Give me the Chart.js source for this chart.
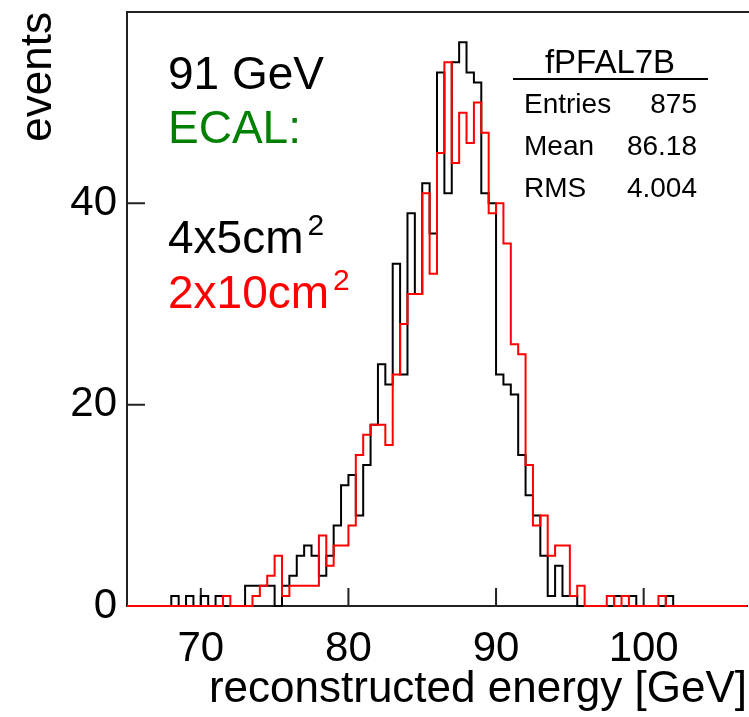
<!DOCTYPE html>
<html>
<head>
<meta charset="utf-8">
<script src="https://cdn.jsdelivr.net/npm/chart.js@4.4.1/dist/chart.umd.min.js"></script>
<style>
  body { margin: 0; background: #fff; }
  canvas { display: block; }
</style>
</head>
<body>
<canvas id="grafico" width="749" height="717"></canvas>
<script>
// histograma: bins de 0.5 GeV desde 65 hasta 107
const binInicio = 65;
const binAncho = 0.5;

// ECAL 4x5cm2 (negro)
const cuentas4x5 = [
  0, 0, 0, 0, 0, 0, 1, 0, 1, 0,        // 65.0 - 69.5
  1, 0, 1, 0, 0, 0, 2, 2, 2, 2,        // 70.0 - 74.5
  0, 2, 3, 5, 6, 5, 3, 5, 8, 12,       // 75.0 - 79.5
  13, 9, 14, 18, 24, 22, 34, 23, 39, 31,   // 80.0 - 84.5
  42, 37, 53, 41, 54, 56, 53, 52, 41, 40,  // 85.0 - 89.5
  23, 22, 21, 15, 11, 9, 5, 1, 4, 1,   // 90.0 - 94.5
  1, 0, 0, 0, 0, 0, 1, 1, 1, 0,        // 95.0 - 99.5
  0, 0, 0, 1, 0, 0, 0, 0, 0, 0,        // 100.0 - 104.5
  0, 0, 0, 0                           // 105.0 - 106.5
];

// ECAL 2x10cm2 (rojo)
const cuentas2x10 = [
  0, 0, 0, 0, 0, 0, 0, 0, 0, 0,
  0, 0, 0, 1, 0, 0, 0, 1, 2, 3,
  5, 1, 2, 2, 2, 2, 7, 4, 6, 6,
  8, 15, 17, 18, 18, 16, 23, 28, 31, 31,
  41, 33, 45, 54, 44, 49, 46, 50, 47, 39,
  40, 36, 26, 25, 14, 8, 9, 5, 6, 6,
  1, 2, 0, 0, 0, 1, 0, 1, 0, 0,
  0, 0, 1, 0, 0, 0, 0, 0, 0, 0,
  0, 0, 0, 0
];

const ticksX = [70, 80, 90, 100];
const ticksY = [0, 20, 40];

// caja de estadisticas
const statsTitulo = 'fPFAL7B';
const statsNombres = ['Entries', 'Mean', 'RMS'];
const statsValores = ['875', '86.18', '4.004'];

const fuente = '"Liberation Sans", Arial, sans-serif';

// pasa las cuentas a puntos (borde inferior de cada bin) + borde final
function aPuntos(cuentas) {
  const pts = cuentas.map((c, i) => ({ x: binInicio + i * binAncho, y: c }));
  pts.push({ x: binInicio + cuentas.length * binAncho, y: cuentas[cuentas.length - 1] });
  return pts;
}

const marcoYTextos = {
  id: 'marcoYTextos',
  beforeDatasetsDraw(chart) {
    const { ctx, chartArea, scales } = chart;
    ctx.save();
    ctx.strokeStyle = '#222';
    ctx.lineWidth = 2;
    ctx.beginPath();
    // linea de arriba del marco
    ctx.moveTo(chartArea.left, chartArea.top);
    ctx.lineTo(chart.width, chartArea.top);
    // ticks hacia adentro
    ticksX.forEach(v => {
      const px = scales.x.getPixelForValue(v);
      ctx.moveTo(px, chartArea.bottom);
      ctx.lineTo(px, chartArea.bottom - 18);
    });
    ticksY.forEach(v => {
      const py = scales.y.getPixelForValue(v);
      ctx.moveTo(chartArea.left, py);
      ctx.lineTo(chartArea.left + 18, py);
    });
    ctx.stroke();
    ctx.restore();
  },
  afterDraw(chart) {
    const ctx = chart.ctx;
    ctx.save();
    ctx.textBaseline = 'alphabetic';
    ctx.textAlign = 'left';

    ctx.font = '46px ' + fuente;
    ctx.fillStyle = '#000';
    ctx.fillText('91 GeV', 168, 89);
    ctx.fillStyle = 'rgb(0,128,0)';
    ctx.fillText('ECAL:', 168, 143);

    // textos con superindice
    const conSuper = (txt, color, y) => {
      ctx.font = '46px ' + fuente;
      ctx.fillStyle = color;
      ctx.fillText(txt, 168, y);
      const w = ctx.measureText(txt).width;
      ctx.font = '30px ' + fuente;
      ctx.fillText('2', 168 + w + 4, y - 18);
    };
    conSuper('4x5cm', '#000', 253);
    conSuper('2x10cm', '#f00', 308);

    // caja de estadisticas
    ctx.fillStyle = '#000';
    ctx.font = '33px ' + fuente;
    ctx.textAlign = 'center';
    ctx.fillText(statsTitulo, 610, 73);
    ctx.strokeStyle = '#000';
    ctx.lineWidth = 2;
    ctx.beginPath();
    ctx.moveTo(513, 79);
    ctx.lineTo(708, 79);
    ctx.stroke();
    ctx.font = '28px ' + fuente;
    statsNombres.forEach((n, i) => {
      const y = 113 + i * 42;
      ctx.textAlign = 'left';
      ctx.fillText(n, 524, y);
      ctx.textAlign = 'right';
      ctx.fillText(statsValores[i], 697, y);
    });
    ctx.restore();
  }
};

new Chart(document.getElementById('grafico').getContext('2d'), {
  type: 'line',
  data: {
    datasets: [
      {
        label: '4x5cm2',
        data: aPuntos(cuentas4x5),
        borderColor: '#000',
        borderWidth: 2,
        stepped: true,
        pointRadius: 0,
        fill: false,
        clip: 6,
        order: 1
      },
      {
        label: '2x10cm2',
        data: aPuntos(cuentas2x10),
        borderColor: '#f00',
        borderWidth: 2,
        stepped: true,
        pointRadius: 0,
        fill: false,
        clip: 6,
        order: 0
      }
    ]
  },
  options: {
    responsive: false,
    animation: false,
    layout: { padding: { top: 12, right: 2, left: 0, bottom: 0 } },
    plugins: {
      legend: { display: false },
      tooltip: { enabled: false }
    },
    scales: {
      x: {
        type: 'linear',
        min: 65,
        max: 107,
        afterBuildTicks: s => { s.ticks = ticksX.map(v => ({ value: v })); },
        afterFit: s => {
          s.height = 111;
          s.paddingLeft = 0;
          s.paddingRight = 0;
        },
        grid: { display: false, drawTicks: false },
        border: { display: true, color: '#222', width: 2 },
        ticks: {
          color: '#000',
          padding: 18,
          maxRotation: 0,
          font: { family: fuente, size: 42 }
        },
        title: {
          display: true,
          text: 'reconstructed energy [GeV]',
          align: 'end',
          color: '#000',
          font: { family: fuente, size: 44 },
          padding: { top: 0, bottom: 1 }
        }
      },
      y: {
        min: 0,
        max: 59,
        afterBuildTicks: s => { s.ticks = ticksY.map(v => ({ value: v })); },
        afterFit: s => {
          s.width = 127;
          s.paddingTop = 0;
          s.paddingBottom = 0;
        },
        grid: { display: false, drawTicks: false },
        border: { display: true, color: '#222', width: 2 },
        ticks: {
          color: '#000',
          padding: 10,
          font: { family: fuente, size: 42 }
        },
        title: {
          display: true,
          text: 'events',
          align: 'end',
          color: '#000',
          font: { family: fuente, size: 44 },
          padding: { top: 12, bottom: 0 }
        }
      }
    }
  },
  plugins: [marcoYTextos]
});
</script>
</body>
</html>
